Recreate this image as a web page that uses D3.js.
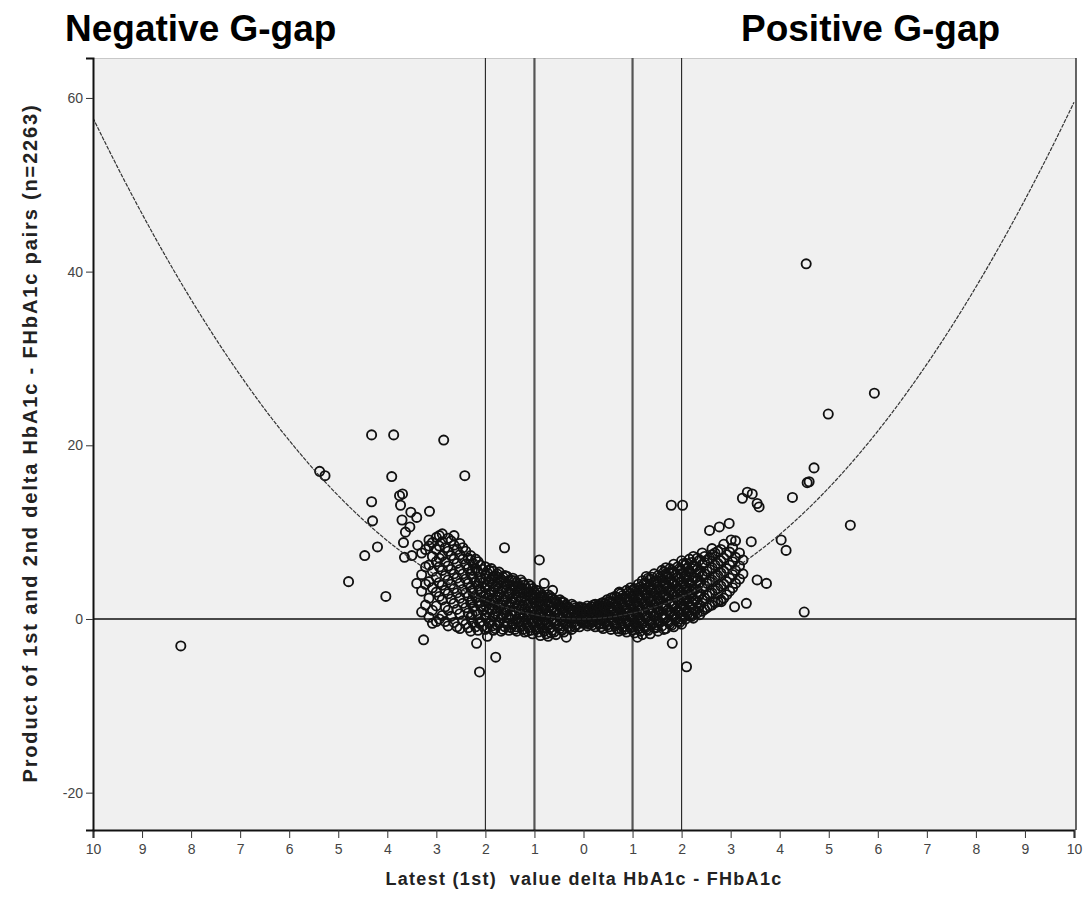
<!DOCTYPE html>
<html>
<head>
<meta charset="utf-8">
<script src="https://cdn.jsdelivr.net/npm/d3@7"></script>
<style>
  html, body { margin: 0; padding: 0; background: #fff; }
  svg { display: block; }
</style>
</head>
<body>
<svg id="chart" width="1084" height="909"></svg>
<script>
// ---------- data ----------
const titles = ["Negative G-gap", "Positive G-gap"];
const xLabel = "Latest (1st)  value delta HbA1c - FHbA1c";
const yLabel = "Product of 1st and 2nd delta HbA1c - FHbA1c pairs (n=2263)";
const xTickValues = [-10,-9,-8,-7,-6,-5,-4,-3,-2,-1,0,1,2,3,4,5,6,7,8,9,10];
const yTickValues = [-20, 0, 20, 40, 60];
const xDomain = [-10, 10];
const yDomain = [-24.3, 64.6];
const refLinesX = [-2, -1, 1, 2];
const refLineY = 0;
// quadratic fit line coefficients: y = a*x^2 + b*x + c
const fitCoef = [0.586, 0.09, 0];

// outlying points [delta, product]
const outliers = [
  [-8.21,-3.1],[-5.38,17.0],[-5.27,16.5],[-4.79,4.3],[-4.46,7.3],[-4.32,21.2],[-4.32,13.5],
  [-4.30,11.3],[-4.20,8.3],[-4.03,2.6],[-3.87,21.2],[-3.91,16.4],[-3.69,14.4],[-3.75,14.2],
  [-3.73,13.1],[-3.70,11.4],[-3.52,12.3],[-3.40,11.7],[-3.63,10.0],[-3.54,10.6],[-3.14,12.4],
  [-3.67,8.8],[-3.50,7.3],[-3.38,8.5],[-2.85,20.6],[-2.42,16.5],[-3.26,-2.4],[-3.40,4.1],
  [-3.65,7.1],[-2.12,-6.1],[-1.79,-4.4],[-1.96,-2.0],[-2.18,-2.8],[-1.61,8.2],[-0.90,6.8],
  [-0.80,4.1],[-0.63,3.3],[0.73,3.1],[1.81,-2.8],[2.10,-5.5],[1.79,13.1],[2.02,13.1],
  [-0.35,-2.1],[1.10,-2.1],
  [3.34,14.6],[3.44,14.4],[3.24,13.9],[3.58,12.9],[3.54,13.3],[4.26,14.0],[4.56,15.7],
  [4.70,17.4],[4.13,7.9],[4.03,9.1],[3.42,8.9],[4.50,0.8],[3.54,4.5],[3.73,4.1],[2.81,2.0],
  [3.08,1.4],[3.32,1.8],[2.97,11.0],[2.77,10.6],[2.57,10.2],[3.01,9.1],
  [4.54,40.9],[5.93,26.0],[4.99,23.6],[5.44,10.8],[4.60,15.8]
];

// dense band: each entry is [delta, list of products observed at that delta]
const bandColumns = [
  [-3.30,[0.8,3.2,5.1,7.6]],
  [-3.15,[0.2,2.4,4.3,6.2,8.4,9.1]],
  [-3.00,[-0.3,1.5,3.1,4.8,6.6,8.0,9.4]],
  [-2.88,[0.4,2.2,3.9,5.6,7.3,8.9,9.8]],
  [-2.76,[-0.8,1.0,2.9,4.5,6.1,7.8,9.3]],
  [-2.64,[-0.4,1.8,3.5,5.2,6.9,8.5,9.6]],
  [-2.52,[-1.1,0.6,2.4,4.1,5.7,7.4,8.7]],
  [-2.40,[-0.6,1.3,3.0,4.6,6.3,7.8]],
  [-2.30,[-1.4,0.2,1.9,3.6,5.2,6.8,7.3]],
  [-2.20,[-0.9,0.9,2.5,4.2,5.8,6.9]],
  [-2.10,[-0.3,1.5,3.1,4.7,6.2]],
  [-2.00,[-1.2,0.4,2.0,3.6,5.1,6.0]],
  [-1.92,[-0.5,1.2,2.8,4.3,5.6]],
  [-1.84,[-1.3,0.3,1.9,3.4,4.9,5.5]],
  [-1.76,[-0.7,0.9,2.5,4.0,5.2]],
  [-1.68,[-1.4,0.1,1.6,3.1,4.6]],
  [-1.60,[-0.9,0.7,2.2,3.7,5.0]],
  [-1.52,[-1.3,0.2,1.4,2.9,4.4]],
  [-1.44,[-0.6,0.9,2.4,3.8,4.7]],
  [-1.36,[-1.4,0.0,1.5,3.0,4.2]],
  [-1.28,[-0.8,0.6,2.1,3.5,4.5]],
  [-1.20,[-1.5,-0.2,1.2,2.6,3.9]],
  [-1.12,[-1.0,0.4,1.8,3.1,4.0]],
  [-1.04,[-1.7,-0.4,0.9,2.3,3.5]],
  [-0.96,[-1.2,0.1,1.5,2.8,3.3]],
  [-0.88,[-1.9,-0.6,0.7,2.0,3.0]],
  [-0.80,[-1.4,-0.1,1.2,2.5]],
  [-0.72,[-2.0,-0.7,0.5,1.8,2.8]],
  [-0.64,[-1.3,0.0,1.3,2.4]],
  [-0.56,[-1.8,-0.5,0.8,2.0]],
  [-0.48,[-1.1,0.2,1.4,2.2]],
  [-0.40,[-1.5,-0.3,0.9,1.9]],
  [-0.32,[-0.9,0.3,1.4]],
  [-0.24,[-1.2,-0.1,1.0,1.7]],
  [-0.16,[-0.7,0.4,1.3]],
  [-0.08,[-0.9,0.0,0.9,1.4]],
  [0.00,[-0.5,0.5,1.2]],
  [0.08,[-0.8,0.1,1.0,1.5]],
  [0.16,[-0.4,0.6,1.4]],
  [0.24,[-0.9,0.2,1.1,1.7]],
  [0.32,[-0.6,0.5,1.5]],
  [0.40,[-1.1,0.1,1.0,1.9]],
  [0.48,[-0.7,0.6,1.6,2.2]],
  [0.56,[-1.2,0.2,1.2,2.4]],
  [0.64,[-0.8,0.5,1.7,2.6]],
  [0.72,[-1.4,0.0,1.1,2.2,3.0]],
  [0.80,[-0.9,0.4,1.6,2.7]],
  [0.88,[-1.5,-0.2,1.0,2.3,3.3]],
  [0.96,[-1.0,0.3,1.6,2.9,3.6]],
  [1.04,[-1.6,-0.4,0.9,2.2,3.5]],
  [1.12,[-1.1,0.2,1.5,2.8,4.0]],
  [1.20,[-1.8,-0.5,0.8,2.1,3.4,4.4]],
  [1.28,[-1.2,0.1,1.4,2.7,4.0,4.9]],
  [1.36,[-1.7,-0.6,0.7,2.0,3.3,4.6]],
  [1.44,[-1.0,0.3,1.6,2.9,4.2,5.2]],
  [1.52,[-1.4,-0.2,1.1,2.4,3.7,5.0]],
  [1.60,[-0.8,0.5,1.8,3.1,4.4,5.6]],
  [1.68,[-1.1,0.1,1.3,2.6,3.9,5.2,5.9]],
  [1.76,[-0.6,0.7,2.0,3.3,4.6,5.8]],
  [1.84,[-0.9,0.3,1.5,2.8,4.1,5.4,6.3]],
  [1.92,[-0.3,0.9,2.2,3.5,4.8,6.0]],
  [2.00,[-0.6,0.5,1.7,3.0,4.3,5.6,6.7]],
  [2.08,[0.0,1.2,2.4,3.7,5.0,6.2]],
  [2.16,[0.4,1.6,2.9,4.2,5.5,6.9]],
  [2.24,[0.1,1.1,2.3,3.5,4.8,6.1,7.2]],
  [2.32,[0.7,1.9,3.1,4.4,5.7,7.0]],
  [2.42,[0.9,2.2,3.6,5.0,6.3,7.6]],
  [2.52,[1.3,2.7,4.1,5.5,6.8]],
  [2.62,[1.6,3.0,4.5,5.9,7.4,8.1]],
  [2.74,[2.0,3.5,5.0,6.4,7.8]],
  [2.86,[2.4,4.0,5.5,7.0,8.6]],
  [2.98,[3.2,4.7,6.2,7.7]],
  [3.10,[4.1,5.6,7.1,9.0]],
  [3.25,[5.2,6.8]]
];

// second pass of the dense band, read between the columns above
const bandColumnsB = [
  [-3.22,[1.6,4.0,6.0,8.0]],
  [-3.08,[-0.5,1.0,3.6,5.5,7.2,8.8]],
  [-2.94,[0.0,2.6,4.2,6.0,7.0,8.4,9.6]],
  [-2.82,[-0.3,1.4,3.3,5.0,6.6,8.2]],
  [-2.70,[0.3,2.3,4.0,5.7,7.3,9.0]],
  [-2.58,[-0.9,1.1,3.0,4.7,6.4,8.0]],
  [-2.46,[-0.2,1.8,3.4,5.2,6.9,8.2]],
  [-2.35,[-1.0,0.7,2.6,4.1,5.8,7.0]],
  [-2.25,[-0.4,1.4,3.0,4.8,6.4]],
  [-2.15,[-1.3,0.5,2.1,3.8,5.4,6.6]],
  [-2.05,[-0.8,1.0,2.6,4.2,5.7]],
  [-1.96,[-1.0,0.8,2.4,3.9,5.3]],
  [-1.88,[-0.2,1.6,3.1,4.6,5.8]],
  [-1.80,[-1.1,0.6,2.2,3.7,5.0]],
  [-1.72,[-0.4,1.3,2.8,4.3,5.4]],
  [-1.64,[-1.2,0.4,1.9,3.4,4.8]],
  [-1.56,[-0.5,1.0,2.6,4.0,4.9]],
  [-1.48,[-1.0,0.5,2.0,3.3,4.5]],
  [-1.40,[-1.2,0.4,1.9,3.4,4.4]],
  [-1.32,[-0.4,1.0,2.5,3.8]],
  [-1.24,[-1.2,0.2,1.6,3.0,4.2]],
  [-1.16,[-0.6,0.8,2.2,3.5]],
  [-1.08,[-1.3,0.0,1.4,2.7,3.8]],
  [-1.00,[-0.8,0.5,1.9,3.0]],
  [-0.92,[-1.5,-0.2,1.1,2.4,3.2]],
  [-0.84,[-1.0,0.3,1.6,2.7]],
  [-0.76,[-1.7,-0.4,0.9,2.1]],
  [-0.68,[-1.0,0.3,1.5,2.6]],
  [-0.60,[-1.5,-0.2,1.0,2.2]],
  [-0.52,[-0.8,0.5,1.7]],
  [-0.44,[-1.3,0.0,1.2,2.0]],
  [-0.36,[-0.6,0.6,1.6]],
  [-0.28,[-1.0,0.2,1.2]],
  [-0.20,[-0.4,0.7,1.5]],
  [-0.12,[-0.6,0.3,1.1]],
  [-0.04,[-0.3,0.6,1.3]],
  [0.04,[-0.5,0.3,1.2]],
  [0.12,[-0.6,0.4,1.2]],
  [0.20,[-0.2,0.8,1.6]],
  [0.28,[-0.4,0.7,1.4]],
  [0.36,[-0.9,0.2,1.2,1.8]],
  [0.44,[-0.4,0.8,1.8]],
  [0.52,[-0.9,0.4,1.4,2.0]],
  [0.60,[-0.4,0.9,2.0]],
  [0.68,[-1.1,0.3,1.4,2.5]],
  [0.76,[-0.5,0.8,2.0,2.9]],
  [0.84,[-1.2,0.1,1.3,2.5]],
  [0.92,[-0.6,0.7,2.0,3.1]],
  [1.00,[-1.3,0.0,1.2,2.5,3.3]],
  [1.08,[-0.7,0.6,1.9,3.2]],
  [1.16,[-1.4,-0.1,1.1,2.4,3.7]],
  [1.24,[-0.8,0.5,1.7,3.0,4.1]],
  [1.32,[-1.3,0.0,1.2,2.4,3.7,4.7]],
  [1.40,[-0.5,0.8,2.2,3.5,4.8]],
  [1.48,[-1.0,0.4,1.8,3.1,4.4]],
  [1.56,[-0.4,0.9,2.1,3.4,4.8]],
  [1.64,[-1.2,0.2,1.5,2.8,4.1,5.4]],
  [1.72,[-0.3,1.0,2.3,3.6,4.9]],
  [1.80,[-0.7,0.5,1.8,3.1,4.3,5.6]],
  [1.88,[0.0,1.2,2.5,3.8,5.1]],
  [1.96,[-0.4,0.8,2.0,3.3,4.6,5.8]],
  [2.04,[0.2,1.5,2.7,4.0,5.3,6.4]],
  [2.12,[0.6,1.9,3.2,4.5,5.8]],
  [2.20,[0.3,1.4,2.6,3.9,5.2,6.5]],
  [2.28,[0.9,2.1,3.4,4.7,6.0]],
  [2.37,[0.5,1.6,2.9,4.2,5.5,6.8]],
  [2.47,[1.1,2.4,3.8,5.2,6.5,7.2]],
  [2.57,[1.5,2.9,4.3,5.7,7.0]],
  [2.68,[1.9,3.3,4.8,6.2,7.6]],
  [2.80,[2.2,3.8,5.3,6.7,8.0]],
  [2.92,[2.8,4.3,5.8,7.4]],
  [3.04,[3.6,5.1,6.6,8.2]],
  [3.18,[4.6,6.1,7.6]]
];

// third pass: the darkest core of the band
const bandColumnsC = [
  [-2.27,[0.5,2.2,3.3,5.6]],
  [-2.12,[-0.5,1.9,3.4,4.4]],
  [-1.99,[0.1,1.5,2.9,4.6]],
  [-1.86,[-0.8,1.1,2.3,4.1]],
  [-1.74,[0.3,1.8,3.5,4.8]],
  [-1.62,[-0.4,1.2,2.6,4.3]],
  [-1.50,[0.0,1.7,3.0,3.9]],
  [-1.38,[-0.9,0.7,2.2,3.6]],
  [-1.26,[-0.3,1.1,2.4,3.3]],
  [-1.14,[-1.4,0.3,1.6,2.9]],
  [-1.02,[-0.2,1.2,2.5]],
  [-0.90,[-1.1,0.4,1.8,2.6]],
  [-0.78,[-0.6,0.6,1.6]],
  [-0.66,[-1.6,-0.3,0.9,2.0]],
  [-0.54,[-0.2,1.1,1.9]],
  [-0.42,[-0.8,0.4,1.5]],
  [-0.30,[-0.3,0.8]],
  [-0.18,[-0.9,0.2,1.0]],
  [-0.06,[-0.2,0.7]],
  [0.06,[-0.2,0.8]],
  [0.18,[-0.7,0.3,1.0]],
  [0.30,[-0.1,0.9,1.6]],
  [0.42,[-0.6,0.5,1.4]],
  [0.54,[-0.2,1.0,1.8]],
  [0.66,[-0.6,0.7,1.9]],
  [0.78,[-1.2,0.1,1.3,2.3]],
  [0.90,[-0.3,1.0,2.1]],
  [1.02,[-0.9,0.4,1.6,2.8]],
  [1.14,[-0.3,1.0,2.3,3.3]],
  [1.26,[-1.0,0.6,1.9,3.4]],
  [1.38,[-0.2,1.3,2.7,4.0]],
  [1.50,[-0.7,0.7,2.0,3.3,4.4]],
  [1.62,[0.0,1.2,2.4,3.7,4.9]],
  [1.74,[-0.4,0.8,2.7,4.1,5.3]],
  [1.86,[0.6,1.8,3.2,4.4]],
  [1.98,[0.0,1.2,2.5,3.8,5.2]],
  [2.10,[0.9,2.2,3.5,4.9,6.4]],
  [2.22,[0.6,1.8,3.1,4.4,5.8]],
  [2.34,[1.3,2.6,3.9,5.2]]
];

// ---------- layout ----------
const W = 1084, H = 909;
const plot = { left: 93, right: 1076, top: 58, bottom: 830 };
const FONT = "Liberation Sans, Arial, sans-serif";

const svg = d3.select("#chart");
svg.append("rect").attr("width", W).attr("height", H).attr("fill", "#fff");

const x = d3.scaleLinear().domain(xDomain).range([plot.left, plot.right - 2]);
const y = d3.scaleLinear().domain(yDomain).range([plot.bottom, plot.top]);

// plot background
svg.append("rect")
  .attr("x", plot.left).attr("y", plot.top)
  .attr("width", plot.right - plot.left).attr("height", plot.bottom - plot.top)
  .attr("fill", "#f0f0f0");
svg.append("line")
  .attr("x1", plot.left).attr("x2", plot.right).attr("y1", plot.top + 0.5).attr("y2", plot.top + 0.5)
  .attr("stroke", "#c8c8c8").attr("stroke-width", 1);
svg.append("line")
  .attr("x1", plot.right).attr("x2", plot.right).attr("y1", plot.top).attr("y2", plot.bottom)
  .attr("stroke", "#333").attr("stroke-width", 1.5);

svg.append("clipPath").attr("id", "clip")
  .append("rect").attr("x", plot.left).attr("y", plot.top)
  .attr("width", plot.right - plot.left).attr("height", plot.bottom - plot.top);

const g = svg.append("g").attr("clip-path", "url(#clip)");

// reference lines
g.selectAll("line.vref").data(refLinesX).join("line")
  .attr("class", "vref")
  .attr("x1", d => x(d)).attr("x2", d => x(d))
  .attr("y1", plot.top).attr("y2", plot.bottom)
  .attr("stroke", d => Math.abs(d) === 1 ? "#555" : "#222")
  .attr("stroke-width", d => Math.abs(d) === 1 ? 2.2 : 1.1);
g.append("line")
  .attr("x1", plot.left).attr("x2", plot.right)
  .attr("y1", y(refLineY)).attr("y2", y(refLineY))
  .attr("stroke", "#111").attr("stroke-width", 1.4);

// points
const toPairs = cols => cols.flatMap(([dx, ys]) => ys.map(v => [dx, v]));
const allPoints = toPairs(bandColumns).concat(toPairs(bandColumnsB), toPairs(bandColumnsC), outliers);
g.selectAll("circle").data(allPoints).join("circle")
  .attr("cx", d => x(d[0])).attr("cy", d => y(d[1]))
  .attr("r", 4.6)
  .attr("fill", "none")
  .attr("stroke", "#111")
  .attr("stroke-width", 1.85);

// fit curve
const fitXs = d3.range(xDomain[0], xDomain[1] + 0.001, 0.05);
const line = d3.line()
  .x(d => x(d))
  .y(d => y(fitCoef[0] * d * d + fitCoef[1] * d + fitCoef[2]));
g.append("path").datum(fitXs)
  .attr("d", line)
  .attr("fill", "none")
  .attr("stroke", "#333")
  .attr("stroke-width", 1.2)
  .attr("stroke-dasharray", "4,1.2");

// axes
const xAxis = d3.axisBottom(x).tickValues(xTickValues).tickSize(8).tickFormat(d => String(Math.abs(d)));
const xg = svg.append("g").attr("transform", `translate(0,${plot.bottom})`).call(xAxis);
xg.select(".domain").attr("stroke", "#111").attr("stroke-width", 2);
xg.selectAll(".tick line").attr("stroke", "#333");
xg.selectAll(".tick text")
  .attr("font-family", FONT)
  .attr("font-size", 14).attr("fill", "#444").attr("dy", "0.9em");

const yAxis = d3.axisLeft(y).tickValues(yTickValues).tickSize(7).tickFormat(d => String(d));
const yg = svg.append("g").attr("transform", `translate(${plot.left},0)`).call(yAxis);
yg.select(".domain").attr("stroke", "#111").attr("stroke-width", 2);
yg.selectAll(".tick line").attr("stroke", "#333");
yg.selectAll(".tick text")
  .attr("font-family", FONT)
  .attr("font-size", 14).attr("fill", "#444");

// axis titles
svg.append("text")
  .attr("x", 584).attr("y", 885)
  .attr("text-anchor", "middle")
  .attr("font-family", FONT)
  .attr("font-weight", "bold").attr("font-size", 18).attr("fill", "#222")
  .attr("letter-spacing", 1.3)
  .style("white-space", "pre")
  .text(xLabel);

svg.append("text")
  .attr("transform", "translate(37,443) rotate(-90)")
  .attr("text-anchor", "middle")
  .attr("font-family", FONT)
  .attr("font-weight", "bold").attr("font-size", 20).attr("fill", "#222")
  .attr("letter-spacing", 1.85)
  .text(yLabel);

// top titles
svg.append("text").attr("x", 65).attr("y", 41)
  .attr("font-family", FONT)
  .attr("font-weight", "bold").attr("font-size", 37).attr("fill", "#000")
  .text(titles[0]);
svg.append("text").attr("x", 741).attr("y", 41)
  .attr("font-family", FONT)
  .attr("font-weight", "bold").attr("font-size", 37).attr("fill", "#000")
  .text(titles[1]);
</script>
</body>
</html>
